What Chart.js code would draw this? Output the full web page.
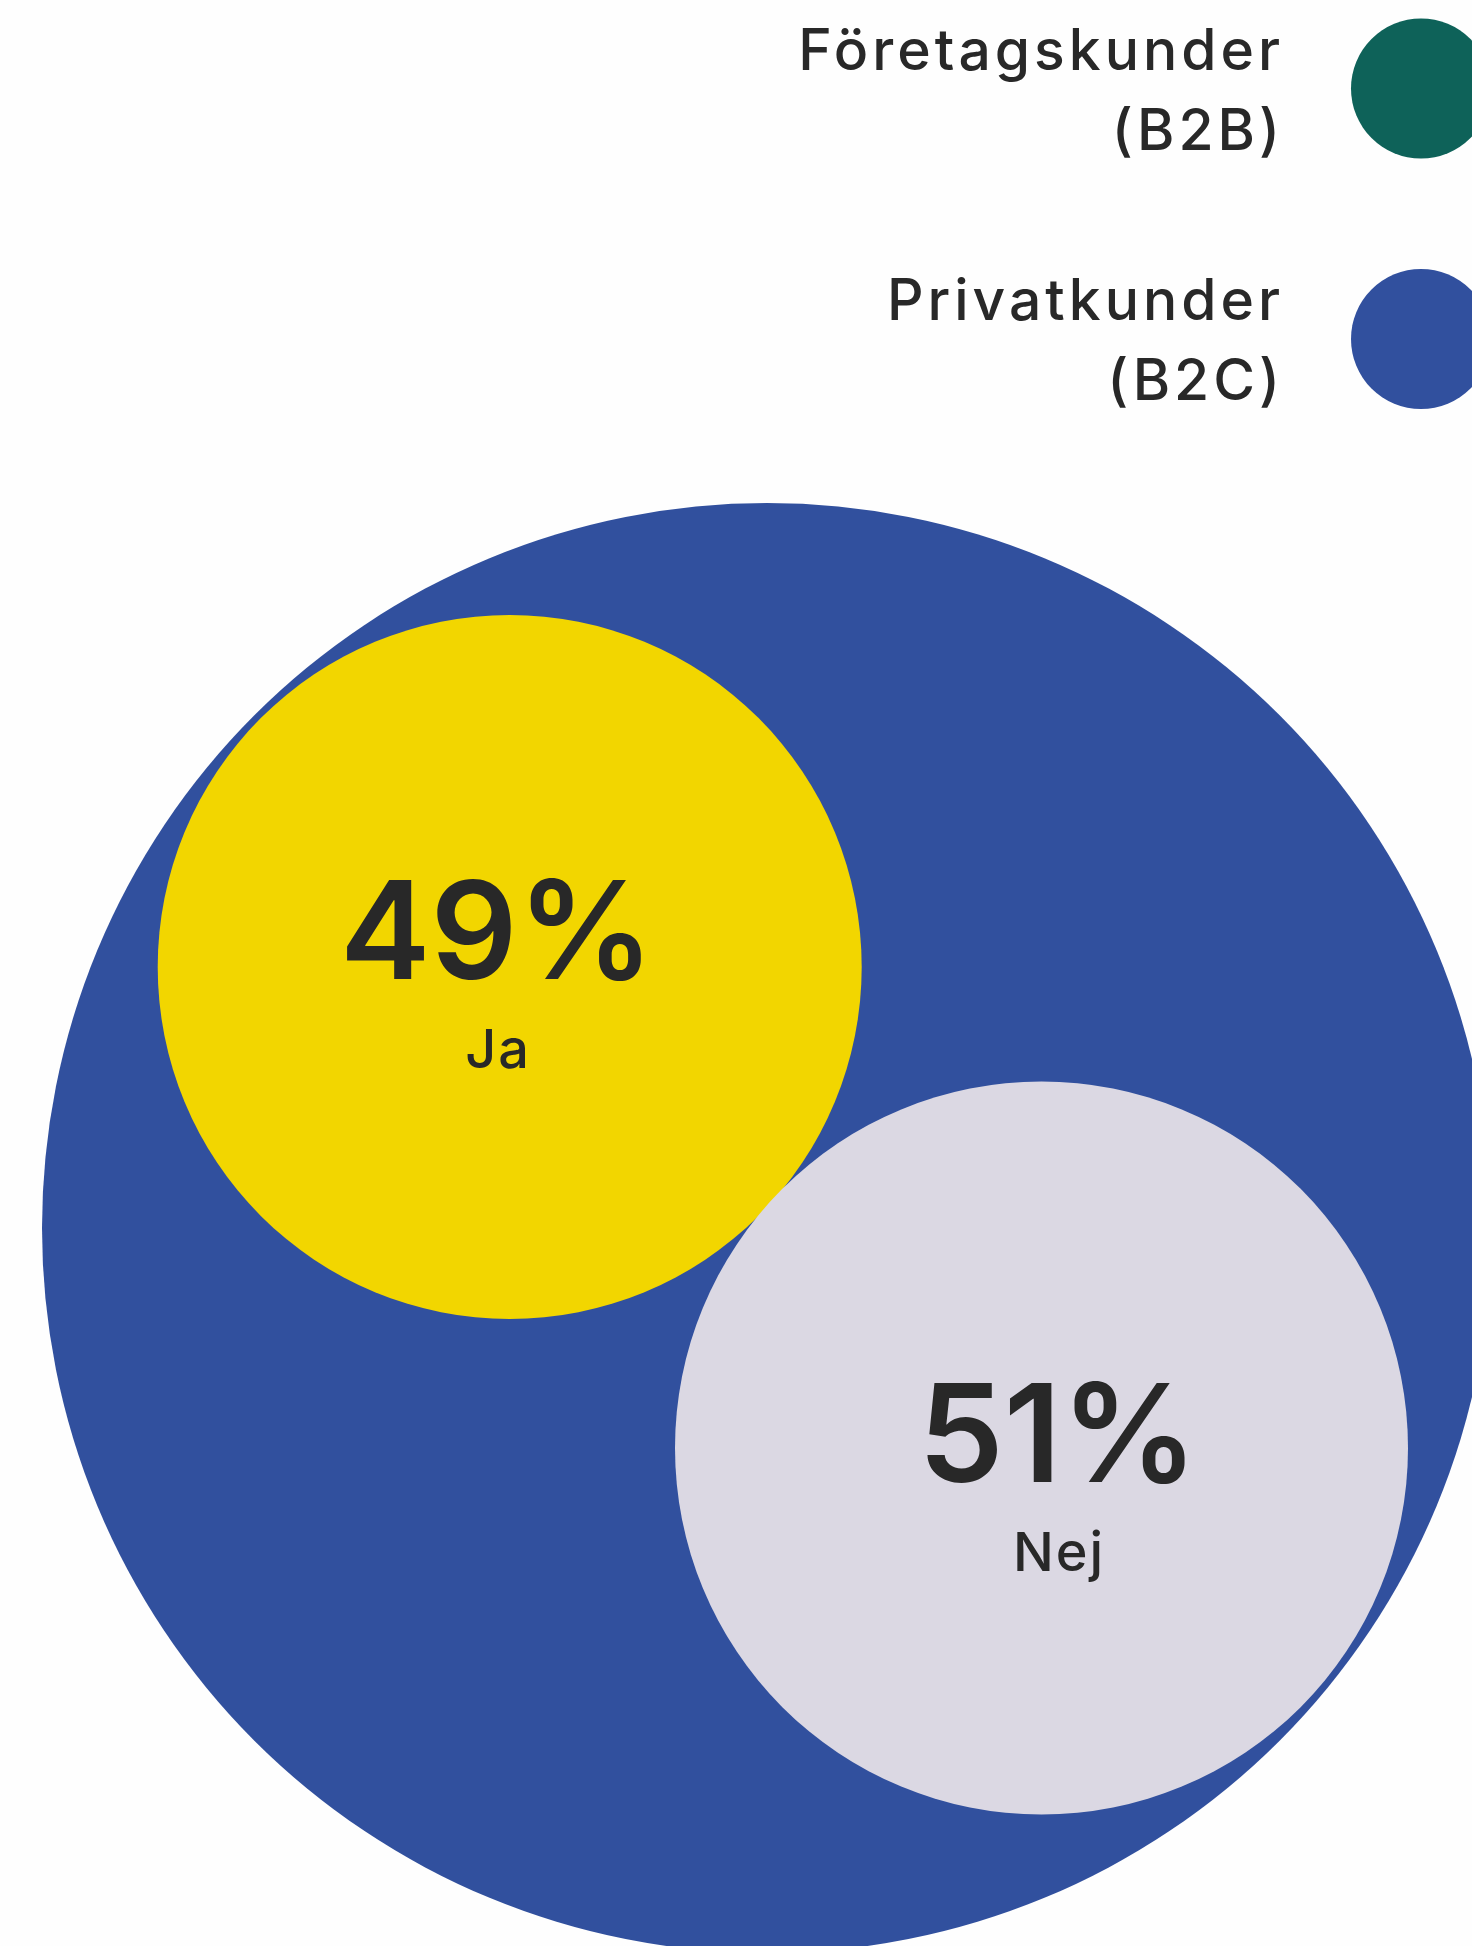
<!DOCTYPE html>
<html>
<head>
<meta charset="utf-8">
<title>Ja / Nej</title>
<script src="https://cdn.jsdelivr.net/npm/chart.js@4.4.1/dist/chart.umd.min.js"></script>
<style>
  html, body { margin: 0; padding: 0; background: #fefefe; }
  #wrap { position: relative; width: 1472px; height: 1946px; overflow: hidden; }
</style>
</head>
<body>
<div id="wrap"><canvas id="bubbles"></canvas></div>
<script>
// answers and their share of Privatkunder (B2C)
let answers = ["Ja", "Nej"];
let shares = [49, 51];
let answerColors = ["#f2d600", "#dbd8e3"];

// legend
let legendLabels = [["Företagskunder", "(B2B)"], ["Privatkunder", "(B2C)"]];
let legendColors = ["#0e6259", "#31509e"];

// packed layout in chart units (axes run 0..1472 and 0..1946)
let groupCircle = { x: 767, y: 1228, r: 725 };
let bubbleX = [509.7, 1041.5];
let bubbleY = [967, 1448];
let bubbleR = [352, 366.5];
let labelX = [497, 1058];
let labelY = [979, 1482];

const textColor = "#282828";
const fontFamily = "Inter, 'Noto Sans', sans-serif";

const labelPlugin = {
  id: "bubbleLabels",
  afterDatasetsDraw(chart) {
    const ctx = chart.ctx;
    const xs = chart.scales.x;
    const ys = chart.scales.y;
    ctx.save();
    ctx.fillStyle = textColor;
    ctx.textBaseline = "alphabetic";
    ctx.textAlign = "center";

    answers.forEach(function (answer, i) {
      let px = xs.getPixelForValue(labelX[i]);
      let py = ys.getPixelForValue(labelY[i]);
      ctx.letterSpacing = "0px";
      ctx.font = "600 136px " + fontFamily;
      ctx.fillText(shares[i] + "%", px, py);
      ctx.letterSpacing = "2px";
      ctx.font = "500 54px " + fontFamily;
      ctx.fillText(answer, px + 1, py + 89);
    });

    // legend, text right aligned, dot cut off by the page edge
    ctx.textAlign = "right";
    ctx.letterSpacing = "4px";
    ctx.font = "500 57px " + fontFamily;
    legendLabels.forEach(function (lines, i) {
      let top = 70 + i * 250;
      lines.forEach(function (line, j) {
        ctx.fillText(line, 1284, top + j * 80);
      });
      ctx.beginPath();
      ctx.arc(1421, 88.5 + i * 250.5, 70, 0, Math.PI * 2);
      ctx.fillStyle = legendColors[i];
      ctx.fill();
      ctx.fillStyle = textColor;
    });
    ctx.restore();
  }
};

new Chart(document.getElementById("bubbles"), {
  type: "bubble",
  data: {
    datasets: [
      {
        label: "Svar",
        data: answers.map(function (a, i) {
          return { x: bubbleX[i], y: bubbleY[i], r: bubbleR[i], v: shares[i] };
        }),
        backgroundColor: answerColors,
        borderWidth: 0,
        clip: false,
      },
      {
        label: legendLabels[1].join(" "),
        data: [{ x: groupCircle.x, y: groupCircle.y, r: groupCircle.r, v: 100 }],
        backgroundColor: legendColors[1],
        borderWidth: 0,
        clip: false,
      },
    ],
  },
  options: {
    responsive: true,
    maintainAspectRatio: false,
    animation: false,
    events: [],
    layout: { padding: 0, autoPadding: false },
    scales: {
      x: { type: "linear", min: 0, max: 1472, display: false },
      y: { type: "linear", min: 0, max: 1946, reverse: true, display: false },
    },
    plugins: {
      legend: { display: false },
      tooltip: { enabled: false },
    },
  },
  plugins: [labelPlugin],
});
</script>
</body>
</html>
